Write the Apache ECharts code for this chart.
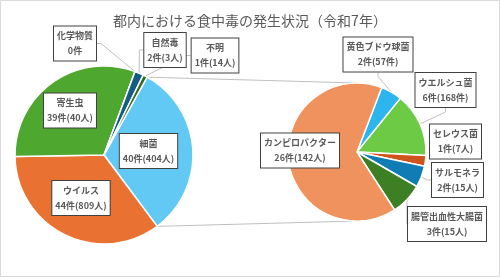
<!DOCTYPE html>
<html>
<head>
<meta charset="utf-8">
<script src="https://cdn.jsdelivr.net/npm/echarts@6/dist/echarts.min.js"></script>
<style>
  html, body { margin: 0; padding: 0; background: #fff; }
  #main { width: 500px; height: 277px; }
</style>
</head>
<body>
<div id="main"></div>
<script>
// 主円グラフ（原因物質別）
var mainNames = ['細菌', 'ウイルス', '寄生虫', '化学物質', '自然毒', '不明'];
var mainCases = [40, 44, 39, 0, 2, 1];
var mainPeople = [404, 809, 40, null, 3, 14];
// 細菌の内訳
var subNames = ['黄色ブドウ球菌', 'ウエルシュ菌', 'セレウス菌', 'サルモネラ', '腸管出血性大腸菌', 'カンピロバクター'];
var subCases = [2, 6, 1, 2, 3, 26];
var subPeople = [57, 168, 7, 15, 15, 142];
var subUnit = ['件', '件', '人', '人', '人', '人'];

var mainColors = ['#61c9f3', '#e97132', '#4ea72e', '#a5a5a5', '#125d80', '#2f6b1e'];
var subColors = ['#2db5ee', '#6dca45', '#cf541c', '#0f7db3', '#3c7f24', '#ef925d'];

// 配置
var mainCenter = [104, 155], mainR = 89, mainStart = 61;
var subCenter = [357, 152], subR = 69, subStart = 69;
var mainLabelPos = [[148.5, 151], [81, 198], [70, 110.5], [75, 43.5], [165, 50], [215, 55.5]];
var subLabelPos = [[378, 54.5], [445.5, 90], [455.5, 141.5], [457.5, 180], [447, 224], [300, 150.5]];
var mainLine = [false, false, false, true, true, true];
var subLine = [true, true, false, true, true, false];

var chart = echarts.init(document.getElementById('main'));

function buildData(names, vals, colors, lines) {
  return names.map(function (n, i) {
    return {
      name: n, value: vals[i],
      itemStyle: { color: colors[i] },
      labelLine: { show: lines[i] }
    };
  });
}

// 細菌スライスの両端から内訳円への連結線
var total = mainCases.reduce(function (a, b) { return a + b; }, 0);
var a0 = mainStart * Math.PI / 180;
var a1 = (mainStart - 360 * mainCases[0] / total) * Math.PI / 180;
var p0 = [mainCenter[0] + mainR * Math.cos(a0), mainCenter[1] - mainR * Math.sin(a0)];
var p1 = [mainCenter[0] + mainR * Math.cos(a1), mainCenter[1] - mainR * Math.sin(a1)];

var labelBox = {
  fontSize: 9,
  lineHeight: 15,
  fontWeight: 'bold',
  color: '#595959',
  backgroundColor: '#fff',
  borderColor: '#404040',
  borderWidth: 1,
  padding: [2, 3, 2, 3],
  align: 'center'
};

var option = {
  textStyle: { fontFamily: 'Noto Sans CJK JP' },
  title: {
    text: '都内における食中毒の発生状況（令和7年）',
    left: 'center',
    top: 9,
    textStyle: { fontSize: 14, fontWeight: 'normal', color: '#595959', fontFamily: 'Noto Sans CJK JP' }
  },
  graphic: [
    { type: 'rect', shape: { x: 0.5, y: 0.5, width: 499, height: 276 }, style: { fill: null, stroke: '#d9d9d9', lineWidth: 1 }, z: -1 },
    { type: 'line', shape: { x1: p0[0], y1: p0[1], x2: subCenter[0], y2: subCenter[1] - subR }, style: { stroke: '#bfbfbf', lineWidth: 1 }, z: -1 },
    { type: 'line', shape: { x1: p1[0], y1: p1[1], x2: subCenter[0], y2: subCenter[1] + subR }, style: { stroke: '#bfbfbf', lineWidth: 1 }, z: -1 }
  ],
  series: [
    {
      type: 'pie',
      center: mainCenter,
      radius: mainR,
      startAngle: mainStart,
      clockwise: true,
      avoidLabelOverlap: false,
      itemStyle: { borderColor: '#fff', borderWidth: 1.5 },
      label: Object.assign({
        position: 'outside',
        formatter: function (p) {
          var n = mainPeople[p.dataIndex];
          return p.name + '\n' + p.value + '件' + (n == null ? '' : '(' + n + '人)');
        }
      }, labelBox),
      labelLine: { length: 4, length2: 4, lineStyle: { color: '#bfbfbf', width: 1 } },
      labelLayout: function (p) {
        var pos = mainLabelPos[p.dataIndex];
        return { x: pos[0], y: pos[1], align: 'center', verticalAlign: 'middle' };
      },
      emphasis: { disabled: true },
      data: buildData(mainNames, mainCases, mainColors, mainLine)
    },
    {
      type: 'pie',
      center: subCenter,
      radius: subR,
      startAngle: subStart,
      clockwise: true,
      avoidLabelOverlap: false,
      itemStyle: { borderColor: '#fff', borderWidth: 1.5 },
      label: Object.assign({
        position: 'outside',
        formatter: function (p) {
          return p.name + '\n' + p.value + '件(' + subPeople[p.dataIndex] + subUnit[p.dataIndex] + ')';
        }
      }, labelBox),
      labelLine: { length: 4, length2: 4, lineStyle: { color: '#bfbfbf', width: 1 } },
      labelLayout: function (p) {
        var pos = subLabelPos[p.dataIndex];
        return { x: pos[0], y: pos[1], align: 'center', verticalAlign: 'middle' };
      },
      emphasis: { disabled: true },
      data: buildData(subNames, subCases, subColors, subLine)
    }
  ]
};
chart.setOption(option);
</script>
</body>
</html>
